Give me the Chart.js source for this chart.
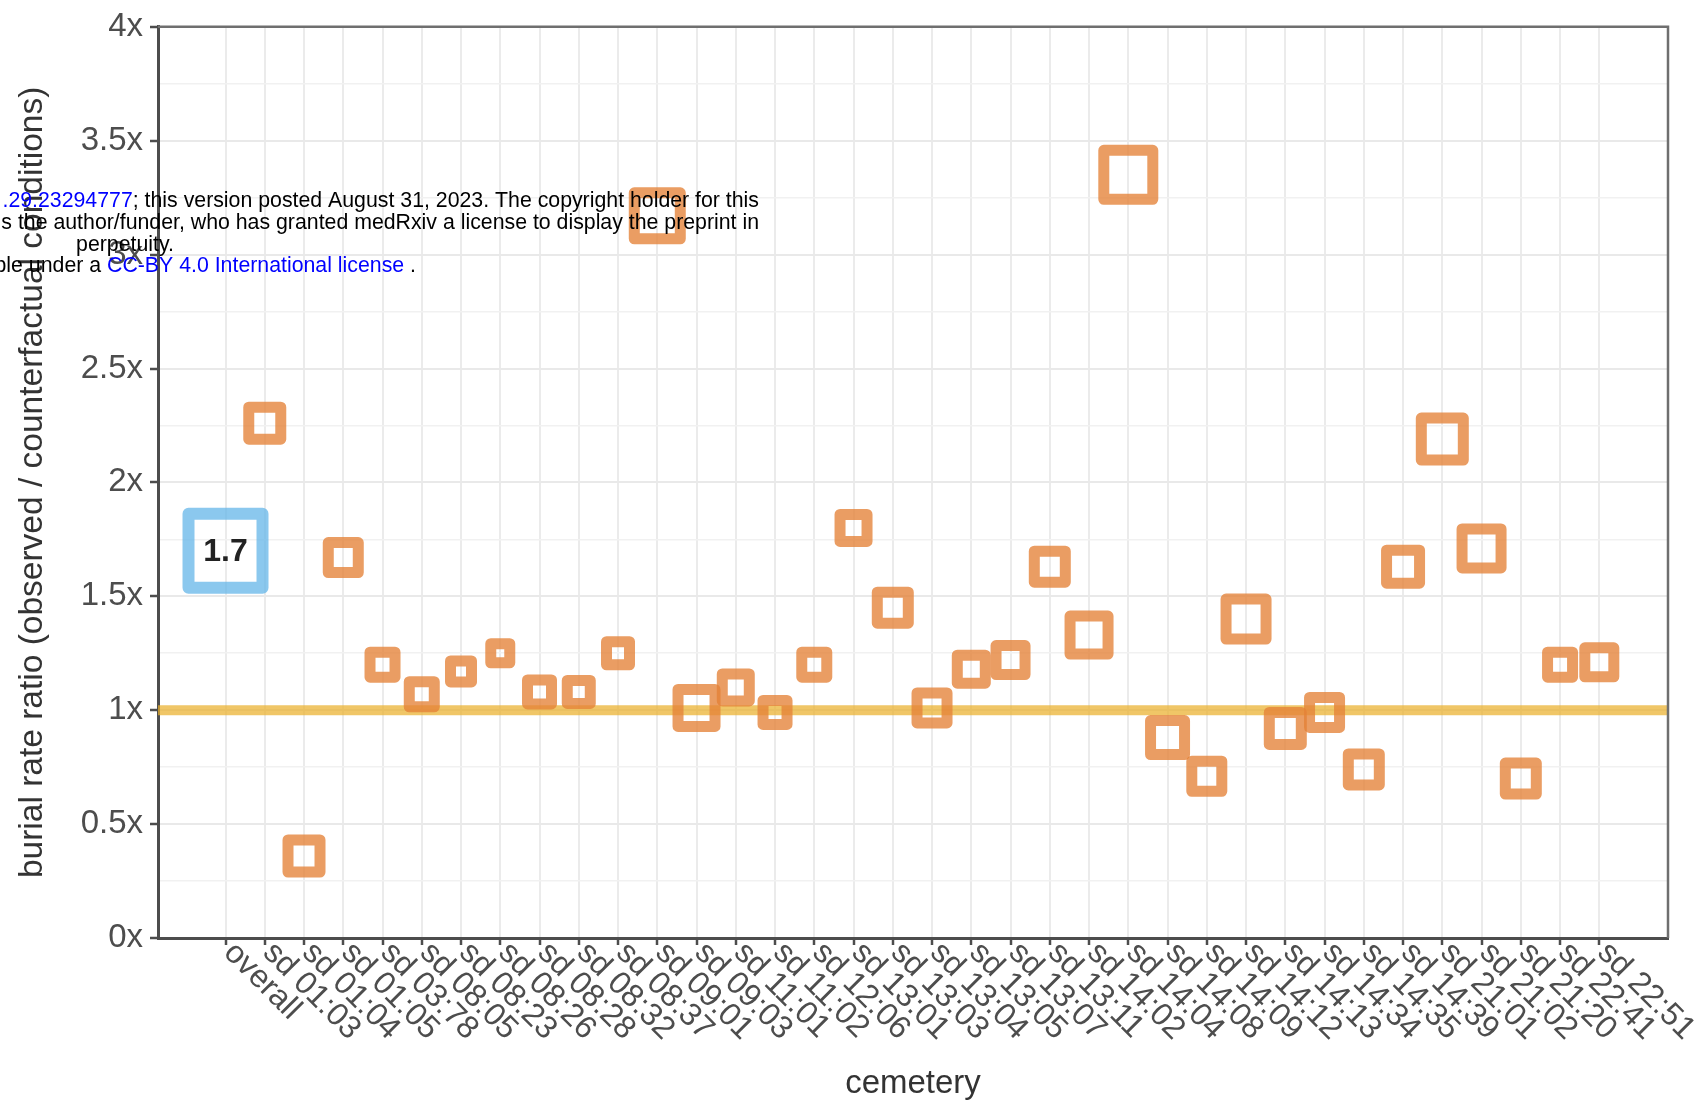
<!DOCTYPE html>
<html>
<head>
<meta charset="utf-8">
<script src="https://cdn.jsdelivr.net/npm/chart.js@4.4.1/dist/chart.umd.min.js"></script>
<style>
  html, body { margin: 0; padding: 0; background: #ffffff; }
  canvas { display: block; }
</style>
</head>
<body>
<canvas id="c" width="1707" height="1102"></canvas>
<script>
// ---------------- data ----------------
const categories = ['overall','sd 01:03','sd 01:04','sd 01:05','sd 03:78','sd 08:05','sd 08:23','sd 08:26','sd 08:28','sd 08:32','sd 08:37','sd 09:01','sd 09:03','sd 11:01','sd 11:02','sd 12:06','sd 13:01','sd 13:03','sd 13:04','sd 13:05','sd 13:07','sd 13:11','sd 14:02','sd 14:04','sd 14:08','sd 14:09','sd 14:12','sd 14:13','sd 14:34','sd 14:35','sd 14:39','sd 21:01','sd 21:02','sd 21:20','sd 22:41','sd 22:51'];
const overallValue = 1.7;
const overallSizeValue = 8.6;
const cemeteryValues = [2.26, 0.36, 1.67, 1.20, 1.07, 1.17, 1.25, 1.08, 1.08, 1.25, 3.17, 1.01, 1.10, 0.99, 1.20, 1.80, 1.45, 1.01, 1.18, 1.22, 1.63, 1.33, 3.35, 0.88, 0.71, 1.40, 0.92, 0.99, 0.74, 1.63, 2.19, 1.71, 0.70, 1.20, 1.21];
const cemeterySizeValues = [4.3, 4.3, 4.1, 3.6, 3.6, 3.2, 3.0, 3.5, 3.4, 3.4, 5.7, 4.8, 3.8, 3.5, 3.6, 3.8, 4.2, 4.1, 3.9, 4.0, 4.2, 4.9, 6.0, 4.5, 4.1, 5.1, 4.3, 4.1, 4.2, 4.4, 5.3, 5.0, 4.2, 3.6, 4.0];
const referenceLevel = 1;
const yTickValues = [0, 0.5, 1, 1.5, 2, 2.5, 3, 3.5, 4];
const yTickLabels = ['0x', '0.5x', '1x', '1.5x', '2x', '2.5x', '3x', '3.5x', '4x'];
const yAxisTitle = 'burial rate ratio (observed / counterfactual conditions)';
const xAxisTitle = 'cemetery';
const watermarkLines = [
  [{t: '.29.23294777', link: true}, {t: '; this version posted August 31, 2023. The copyright holder for this', link: false}],
  [{t: 's the author/funder, who has granted medRxiv a license to display the preprint in', link: false}],
  [{t: 'perpetuity.', link: false}],
  [{t: 'ble under a ', link: false}, {t: 'CC-BY 4.0 International license', link: true}, {t: ' .', link: false}]
];

// ---------------- styling ----------------
const FONT = '"Liberation Sans", Arial, Helvetica, sans-serif';
const ORANGE = 'rgba(228,130,55,0.78)';
const BLUE = 'rgba(100,182,232,0.75)';
const YELLOW = 'rgba(234,176,45,0.72)';
const X_MIN = -1.72, X_MAX = 36.75;
const ORANGE_BW = 11, BLUE_BW = 12;
const sizeToRadius = (s, bw) => (s * 10 - bw) / Math.SQRT2;

const overlayPlugin = {
  id: 'overlay',
  beforeDatasetsDraw(chart) {
    chart.ctx.lineJoin = 'round';
  },
  afterDatasetsDraw(chart) {
    const ctx = chart.ctx;
    const pt = chart.getDatasetMeta(0).data[0];
    ctx.save();
    ctx.lineJoin = 'miter';
    ctx.font = 'bold 32px ' + FONT;
    ctx.fillStyle = '#222222';
    ctx.textAlign = 'center';
    ctx.textBaseline = 'middle';
    ctx.fillText(overallValue.toFixed(1), pt.x, pt.y + 1);
    ctx.restore();
    ctx.lineJoin = 'miter';
  },
  afterDraw(chart) {
    const ctx = chart.ctx;
    const area = chart.chartArea;
    const xs = chart.scales.x;
    ctx.save();
    // panel frame (top / right)
    ctx.strokeStyle = '#6f6f6f';
    ctx.lineWidth = 2.5;
    ctx.beginPath();
    ctx.moveTo(area.left, area.top);
    ctx.lineTo(area.right, area.top);
    ctx.lineTo(area.right, area.bottom);
    ctx.stroke();
    // rotated category labels
    ctx.font = '32px ' + FONT;
    ctx.fillStyle = '#4d4d4d';
    ctx.textAlign = 'left';
    ctx.textBaseline = 'alphabetic';
    categories.forEach((lab, i) => {
      const px = xs.getPixelForValue(i);
      ctx.save();
      ctx.translate(px - 3, area.bottom + 16);
      ctx.rotate(Math.PI / 4);
      ctx.fillText(lab, 0, 0);
      ctx.restore();
    });
    // watermark overlay
    ctx.font = '21.3px ' + FONT;
    ctx.textBaseline = 'middle';
    ctx.textAlign = 'left';
    const lineY = [201, 223, 245, 266];
    const widthOf = (parts) => parts.reduce((w, p) => w + ctx.measureText(p.t).width, 0);
    watermarkLines.forEach((parts, li) => {
      let x;
      if (li === 0 || li === 1) x = 759 - widthOf(parts);
      else if (li === 2) x = 125 - widthOf(parts) / 2;
      else x = 107 - ctx.measureText(parts[0].t).width;
      parts.forEach(p => {
        ctx.fillStyle = p.link ? '#0000ff' : '#000000';
        ctx.fillText(p.t, x, lineY[li]);
        x += ctx.measureText(p.t).width;
      });
    });
    ctx.restore();
  }
};

new Chart(document.getElementById('c'), {
  type: 'scatter',
  data: {
    datasets: [
      {
        label: 'overall',
        data: [{x: 0, y: overallValue}],
        pointStyle: 'rect',
        pointRadius: sizeToRadius(overallSizeValue, BLUE_BW),
        pointBorderWidth: BLUE_BW,
        pointBorderColor: BLUE,
        pointBackgroundColor: 'rgba(0,0,0,0)',
        order: 1
      },
      {
        label: 'cemeteries',
        data: cemeteryValues.map((v, i) => ({x: i + 1, y: v})),
        pointStyle: 'rect',
        pointRadius: cemeterySizeValues.map(s => sizeToRadius(s, ORANGE_BW)),
        pointBorderWidth: ORANGE_BW,
        pointBorderColor: ORANGE,
        pointBackgroundColor: 'rgba(0,0,0,0)',
        order: 2
      },
      {
        type: 'line',
        label: 'reference',
        data: [{x: X_MIN, y: referenceLevel}, {x: X_MAX, y: referenceLevel}],
        borderColor: YELLOW,
        borderWidth: 10,
        borderJoinStyle: 'miter',
        pointRadius: 0,
        fill: false,
        order: 3
      }
    ]
  },
  options: {
    responsive: false,
    animation: false,
    events: [],
    devicePixelRatio: 1,
    layout: { autoPadding: false, padding: { top: 24, right: 39, left: 0, bottom: 0 } },
    plugins: { legend: { display: false }, tooltip: { enabled: false } },
    scales: {
      x: {
        type: 'linear',
        min: X_MIN,
        max: X_MAX,
        afterBuildTicks: (axis) => { axis.ticks = categories.map((_, i) => ({value: i})); },
        afterFit: (axis) => { axis.height = 164; },
        ticks: { display: false, autoSkip: false },
        grid: { color: '#ebebeb', lineWidth: 2, drawTicks: true, tickLength: 7, tickWidth: 2.5, tickColor: '#4d4d4d' },
        border: { display: true, color: '#4d4d4d', width: 3 },
        title: { display: true, text: xAxisTitle, color: '#333333', font: { family: FONT, size: 33, lineHeight: 1.05 }, padding: { top: 0, bottom: 1 } }
      },
      y: {
        type: 'linear',
        min: 0,
        max: 4,
        afterFit: (axis) => { axis.width = 158; },
        ticks: {
          stepSize: 0.25,
          autoSkip: false,
          padding: 7,
          color: '#4d4d4d',
          font: { family: FONT, size: 33 },
          callback: (v) => { const k = yTickValues.indexOf(v); return k >= 0 ? yTickLabels[k] : ''; }
        },
        grid: {
          color: (c) => (yTickValues.includes(c.tick && c.tick.value) ? '#e9e9e9' : '#f1f1f1'),
          lineWidth: (c) => (yTickValues.includes(c.tick && c.tick.value) ? 2 : 1.6),
          drawTicks: true,
          tickLength: 8,
          tickWidth: 2.5,
          tickColor: (c) => (yTickValues.includes(c.tick && c.tick.value) ? '#4d4d4d' : 'rgba(0,0,0,0)')
        },
        border: { display: true, color: '#4d4d4d', width: 3 },
        title: { display: true, text: yAxisTitle, color: '#333333', font: { family: FONT, size: 33.5 }, padding: { top: 13, bottom: 0 } }
      }
    }
  },
  plugins: [overlayPlugin]
});
</script>
</body>
</html>
